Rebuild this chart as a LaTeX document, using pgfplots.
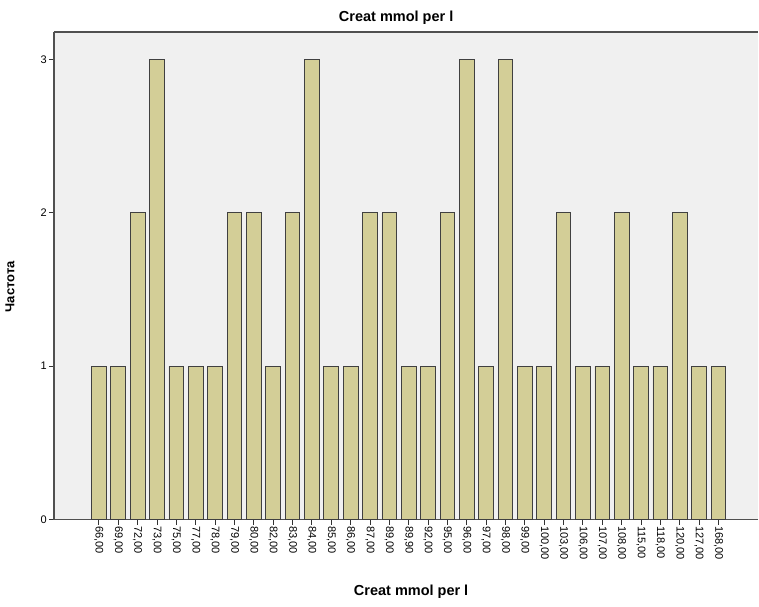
\documentclass[border=0pt]{standalone}
\usepackage{pgfplots}
\pgfplotsset{compat=1.18}
\usepackage{fontspec}
\setmainfont{Liberation Sans}
\definecolor{barfill}{RGB}{211,206,151}
\definecolor{bgc}{RGB}{240,240,240}
\definecolor{axc}{RGB}{80,80,80}
\begin{document}
\begin{tikzpicture}
\begin{axis}[
  scale only axis, width=705pt, height=488pt,
  xmin=-2.32, xmax=34.06, ymin=0, ymax=3.18,
  axis background/.style={fill=bgc},
  axis x line*=bottom, axis y line*=left,
  axis line style={axc, line width=1.4pt},
  ybar, bar width=0.76,
  xtick={0,...,32},
  xticklabels={{66,00},{69,00},{72,00},{73,00},{75,00},{77,00},{78,00},{79,00},{80,00},{82,00},{83,00},{84,00},{85,00},{86,00},{87,00},{89,00},{89,90},{92,00},{95,00},{96,00},{97,00},{98,00},{99,00},{100,00},{103,00},{106,00},{107,00},{108,00},{115,00},{118,00},{120,00},{127,00},{168,00}},
  ytick={0,1,2,3},
  tick align=outside, major tick length=5pt,
  tick style={black!80, line width=0.8pt},
  /pgf/number format/assume math mode=true,
  xticklabel style={rotate=-90, anchor=west, font=\fontsize{11}{13}\selectfont, inner sep=1.5pt},
  yticklabel style={font=\fontsize{11}{13}\selectfont, inner sep=2pt},
  title={Creat mmol per l},
  title style={font=\bfseries\fontsize{14.5}{17}\selectfont, at={(axis description cs:0.5,1)}, anchor=center, yshift=8pt, xshift=-10pt},
  xlabel={Creat mmol per l},
  xlabel style={font=\bfseries\fontsize{14.5}{17}\selectfont, at={(axis description cs:0.5,0)}, anchor=center, yshift=-72pt, xshift=5pt},
  ylabel={Частота},
  ylabel style={font=\bfseries\fontsize{13}{15}\selectfont, at={(axis description cs:0,0.5)}, anchor=center, xshift=-11pt, yshift=44pt},
  clip=false,
]
\addplot[fill=barfill, draw=black!75, line width=0.8pt] coordinates {
(0,1) (1,1) (2,2) (3,3) (4,1) (5,1) (6,1) (7,2) (8,2) (9,1) (10,2) (11,3) (12,1) (13,1) (14,2) (15,2) (16,1) (17,1) (18,2) (19,3) (20,1) (21,3) (22,1) (23,1) (24,2) (25,1) (26,1) (27,2) (28,1) (29,1) (30,2) (31,1) (32,1)
};
\draw[axc, line width=1.4pt] (rel axis cs:0,1) -- (rel axis cs:1,1);
\end{axis}
\path (current axis.south west) ++(-54pt,-87pt) rectangle ++(759pt,607pt);
\end{tikzpicture}
\end{document}
